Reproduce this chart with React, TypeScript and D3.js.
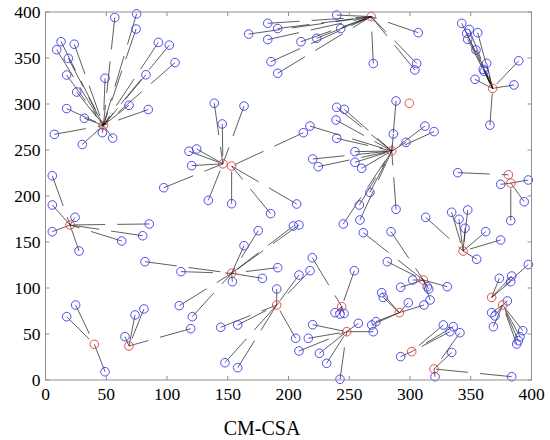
import React from 'react';
import * as d3 from 'd3';

const WIDTH = 550;
const HEIGHT = 440;
const PLOT = { left: 45.5, right: 531.5, top: 12, bottom: 380 };

const tickValues = [0, 50, 100, 150, 200, 250, 300, 350, 400];
const xTitle = 'CM-CSA';

// cluster heads (red) [x, y]
const clusterHeads: [number, number][] = [
  [47.6, 276.8], // 0
  [268, 395], // 1
  [368, 317], // 2
  [285, 249], // 3
  [146, 235], // 4
  [153.2, 232.5], // 5
  [299.4, 300.8], // 6 (no members)
  [381, 223], // 7
  [383, 214], // 8
  [343.7, 140.2], // 9
  [311, 108.7], // 10
  [291.2, 73.2], // 11
  [301.4, 30.8], // 12
  [319.8, 12], // 13
  [367.2, 89.8], // 14
  [376.3, 81.5], // 15
  [20.2, 168.5], // 16
  [40.2, 38.8], // 17
  [68.7, 37], // 18
  [153.2, 116], // 19
  [190.3, 81.5], // 20
  [243.8, 79.7], // 21
  [247.9, 52.5], // 22
];

// sensor nodes (blue) [x, y, head index]
const memberNodes: [number, number, number][] = [
  [57, 394, 0], [75, 398, 0], [74.5, 381.5, 0], [12.8, 367.7, 0], [23.7, 365, 0],
  [9.2, 359, 0], [18.8, 349.6, 0], [92.9, 367, 0], [101.9, 364, 0], [106.6, 345, 0],
  [82.7, 331.8, 0], [49, 328, 0], [17.4, 331.5, 0], [25.7, 313, 0], [68.7, 298.6, 0],
  [84.6, 294, 0], [17.4, 295, 0], [32, 284.5, 0], [7.3, 267, 0], [46.8, 268.8, 0],
  [55.3, 263, 0], [30.3, 256, 0],

  [239.7, 396.7, 1], [182.9, 387.7, 1], [191.1, 382, 1], [167.2, 376, 1], [182.9, 370, 1],
  [243, 382, 1], [223.2, 371.4, 1], [210.3, 367.7, 1], [185.6, 346, 1], [191.1, 333.4, 1],
  [269.8, 344, 1], [306.8, 377.5, 1], [305.5, 344, 1], [304, 337, 1],

  [342.6, 387.7, 2], [348.8, 381, 2], [346.7, 376.8, 2], [355.7, 377.5, 2], [347.5, 370.3, 2],
  [354.3, 358.7, 2], [363.1, 344.2, 2], [360.3, 337.7, 2], [361, 335.5, 2], [353.5, 326.8, 2],
  [389.5, 347, 2], [385.6, 320.7, 2], [365.8, 277, 2],

  [288.5, 303.3, 3], [239.7, 296.4, 3], [245.9, 294.2, 3], [239.1, 282.6, 3], [217.7, 276, 3],
  [239.7, 262.7, 3], [286.3, 267.4, 3], [312.3, 276, 3], [319.8, 270, 3], [296.7, 258.3, 3],
  [254.7, 248.2, 3], [219.9, 240.2, 3], [224.5, 231.9, 3], [254.7, 236.6, 3], [260.2, 230.1, 3],
  [267, 204, 3], [258.3, 190.2, 3], [245.1, 169.6, 3], [258.8, 173.9, 3], [288.5, 185.5, 3],

  [138.9, 300.8, 4], [163.4, 297.8, 4], [145.5, 278.3, 4], [118.1, 248.6, 4], [124.4, 251.1, 4],
  [120.3, 233, 4], [97.3, 209, 4], [134, 195.3, 4],

  [153.2, 191.6, 5], [185.3, 180.8, 5], [206.7, 191.3, 5], [212.2, 268.8, 5],

  [339.3, 225.4, 7],

  [374.6, 212.7, 8], [397.4, 217.4, 8], [394, 193.8, 8], [382.9, 173.2, 8],

  [312.9, 176.8, 9], [334.3, 182.3, 9], [340.3, 174.7, 9], [347.5, 184.8, 9], [345.3, 164.9, 9],
  [362.3, 161.2, 9], [374.6, 152.2, 9], [354.9, 131.2, 9],

  [261.6, 160.1, 10], [284.4, 161.2, 10], [281.3, 128.6, 10], [302.2, 108.7, 10], [314.2, 101.4, 10],
  [315.4, 98.9, 10], [330.7, 101.4, 10], [316.5, 87, 10], [292.3, 100.8, 10],

  [276.7, 94.9, 11], [278, 89.8, 11], [298.6, 84, 11], [311.5, 81.5, 11], [272, 63.4, 11],
  [268.5, 59.8, 11],

  [292.3, 25.4, 12], [327.4, 59.8, 12], [335.6, 58, 12], [332.9, 52.5, 12],

  [320.6, 3.6, 13], [334.3, 30, 13], [341.1, 51.4, 13], [383.7, 3.6, 13],

  [373.5, 110.5, 14], [383.7, 113, 14], [382.9, 106.9, 14], [397.4, 125.5, 14],

  [380.1, 85.9, 15], [392.8, 53.6, 15], [390.5, 47.1, 15], [389.2, 42.7, 15], [387.8, 39.1, 15],
  [367.2, 73.2, 15], [370, 69.6, 15], [368.6, 57.9, 15],

  [5.6, 190.2, 16], [24.3, 176.8, 16], [5.6, 161.2, 16], [27.6, 140.2, 16], [85.4, 169.6, 16],
  [80, 156.8, 16], [62.7, 151.1, 16], [5.6, 222, 16],

  [24.8, 81.5, 17], [17.4, 68.8, 17], [49, 9, 17],

  [65.4, 47.1, 18], [73.7, 70.7, 18], [81, 77.2, 18], [119.5, 55.8, 18],

  [153.8, 106.9, 19], [175.1, 162.3, 19], [163.4, 146, 19], [204, 167.4, 19], [208.6, 168.5, 19],
  [191.1, 122.1, 19], [178.5, 110.5, 19], [81.9, 128.6, 19], [111.5, 117.8, 19], [110.1, 80.8, 19],
  [120.8, 68.8, 19],

  [190.3, 98.9, 20], [208.6, 114.1, 20], [217.7, 118.8, 20], [144.2, 57.3, 20], [158.2, 59.8, 20],
  [205.9, 45.3, 20], [147.7, 18.8, 20], [158.2, 13.4, 20],

  [238.3, 73.2, 21], [242.4, 71.7, 21], [245.7, 72.4, 21], [219.6, 132.9, 21], [254.2, 118.8, 21],

  [219.9, 60.1, 22], [216.3, 45.3, 22], [208.6, 31.5, 22], [225.4, 29, 22], [231.4, 18.1, 22],
  [242.4, 0.8, 22], [257.5, 61.6, 22], [269.8, 52.5, 22],
];

const FONT = '"Liberation Serif", "Times New Roman", serif';

const App = () => {
  const x = d3.scaleLinear().domain([0, 400]).range([PLOT.left, PLOT.right]);
  const y = d3.scaleLinear().domain([0, 400]).range([PLOT.bottom, PLOT.top]);
  const r = 4.3;
  const tickLen = 4;

  return (
    <svg
      width={WIDTH}
      height={HEIGHT}
      style={{ position: 'absolute', left: 0, top: 0, background: '#fff' }}
    >
      {/* links member -> head */}
      <g stroke="#1a1a1a" strokeWidth={0.7} strokeDasharray="32 12" fill="none">
        {memberNodes.map((d, i) => {
          const h = clusterHeads[d[2]];
          return <line key={i} x1={x(d[0])} y1={y(d[1])} x2={x(h[0])} y2={y(h[1])} />;
        })}
      </g>

      {/* sensor nodes */}
      <g fill="none" stroke="#3a3af2" strokeWidth={0.9}>
        {memberNodes.map((d, i) => (
          <circle key={i} cx={x(d[0])} cy={y(d[1])} r={r} />
        ))}
      </g>

      {/* cluster heads */}
      <g fill="none" stroke="#ea3a3a" strokeWidth={0.9}>
        {clusterHeads.map((d, i) => (
          <circle key={i} cx={x(d[0])} cy={y(d[1])} r={r} />
        ))}
      </g>

      {/* axes box and ticks */}
      <g stroke="#8f8f8f" strokeWidth={1} fill="none">
        <rect x={x(0)} y={y(400)} width={x(400) - x(0)} height={y(0) - y(400)} />
        {tickValues.map((t) => (
          <g key={t}>
            <line x1={x(t)} x2={x(t)} y1={y(0)} y2={y(0) - tickLen} />
            <line x1={x(t)} x2={x(t)} y1={y(400)} y2={y(400) + tickLen} />
            <line x1={x(0)} x2={x(0) + tickLen} y1={y(t)} y2={y(t)} />
            <line x1={x(400)} x2={x(400) - tickLen} y1={y(t)} y2={y(t)} />
          </g>
        ))}
      </g>

      <g fontFamily={FONT} fontSize={17.5} fill="#000">
        {tickValues.map((t) => (
          <text key={'x' + t} x={x(t)} y={400} textAnchor="middle">
            {t}
          </text>
        ))}
        {tickValues.map((t) => (
          <text key={'y' + t} x={x(0) - 5} y={y(t)} dy="0.35em" textAnchor="end">
            {t}
          </text>
        ))}
      </g>

      <text x={262} y={435} fontFamily={FONT} fontSize={20} textAnchor="middle" fill="#000">
        {xTitle}
      </text>
    </svg>
  );
};

export default App;
